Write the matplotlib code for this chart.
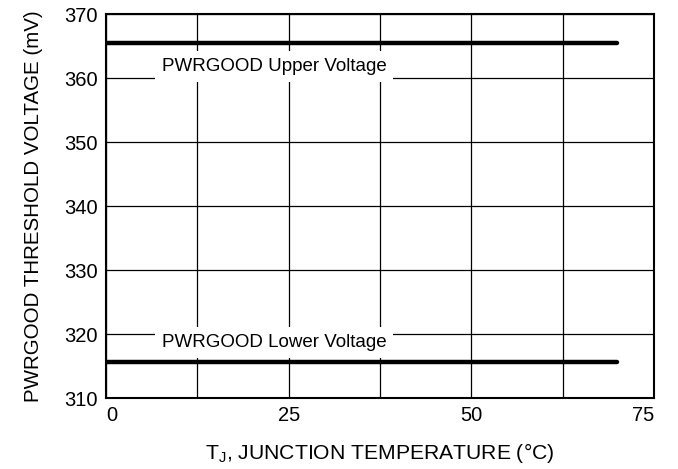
import matplotlib.pyplot as plt
import numpy as np

plt.rcParams['font.family'] = ['Liberation Sans', 'DejaVu Sans']

temp = [0, 70]
upper_mv = [365.4, 365.4]
lower_mv = [315.7, 315.7]
xticks = [0, 25, 50, 75]
yticks = [310, 320, 330, 340, 350, 360, 370]

fig = plt.figure(figsize=(6.78, 4.69), dpi=100)
ax = fig.add_axes([106 / 678, 1 - 398 / 469, 548 / 678, 384 / 469])

ax.plot(temp, upper_mv, color='black', lw=3.2, solid_capstyle='round', zorder=3)
ax.plot(temp, lower_mv, color='black', lw=3.2, solid_capstyle='round', zorder=3)

ax.set_xlim(0, 75)
ax.set_ylim(310, 370)
grid_x = np.arange(0, 75.1, 12.5)
ax.set_xticks(grid_x)
ax.set_xticklabels([f'{v:.0f}' if v in xticks else '' for v in grid_x])
ax.set_yticks(yticks)
ax.grid(True, color='black', lw=0.9)
ax.tick_params(length=0, labelsize=14.5, pad=6)
for lab in ax.get_xticklabels():
    if lab.get_text() == '0':
        lab.set_ha('left')
    elif lab.get_text() == '75':
        lab.set_ha('right')
for s in ax.spines.values():
    s.set_linewidth(1.5)

ax.text(7.6, 361.8, 'PWRGOOD Upper Voltage', fontsize=13.5, va='center', zorder=4,
        bbox=dict(facecolor='white', edgecolor='none', pad=5))
ax.text(7.6, 318.7, 'PWRGOOD Lower Voltage', fontsize=13.5, va='center', zorder=4,
        bbox=dict(facecolor='white', edgecolor='none', pad=5))

ax.set_xlabel('T$_\\mathregular{J}$, JUNCTION TEMPERATURE (°C)', fontsize=15.2, labelpad=11)
ax.set_ylabel('PWRGOOD THRESHOLD VOLTAGE (mV)', fontsize=14.8, labelpad=15)

fig.savefig('out.png', dpi=100)
